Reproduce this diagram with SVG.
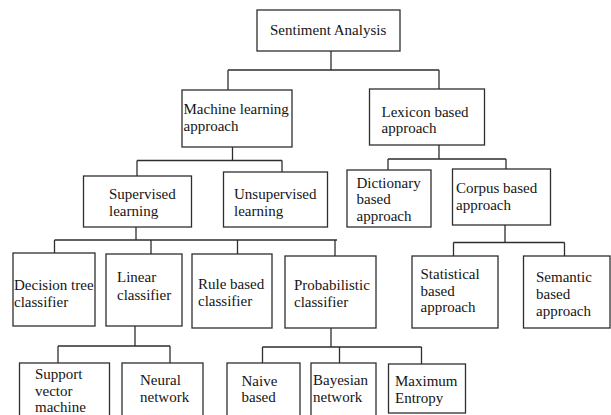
<svg xmlns="http://www.w3.org/2000/svg" width="611" height="415" viewBox="0 0 611 415">
<style>
.box{fill:#fff;stroke:#2e2e2e;stroke-width:1.3}
.c{fill:none;stroke:#2e2e2e;stroke-width:1.3}
text{font-family:"Liberation Serif","Times New Roman",serif;font-size:15px;fill:#151515}
</style>
<rect width="611" height="415" fill="#fff"/>
<g id="connectors">
<path class="c" d="M331 51V70M228 70H439M228 70V90M439 70V89"/>
<path class="c" d="M232.5 147V160.5M137 160.5H282M137 160.5V176M282 160.5V172"/>
<path class="c" d="M439 145V159M388 159H506M388 159V170M506 159V169"/>
<path class="c" d="M136 227V240M54.5 240H337M54.5 240V253M151 240V254M237.5 240V254M335 240V256"/>
<path class="c" d="M505 225V242.5M453.5 242.5H564.5M453.5 242.5V256M564.5 242.5V256"/>
<path class="c" d="M135 326V346M58 346H170M58 346V363M170 346V363"/>
<path class="c" d="M331 328V347M262.5 347H421.5M262.5 347V363M339.5 347V363M421.5 347V364"/>
</g>
<g id="sentiment"><rect class="box" x="257" y="10" width="143" height="41"/><text x="270" y="35">Sentiment Analysis</text></g>
<g id="ml"><rect class="box" x="182" y="90" width="110" height="57"/><text x="183.5" y="113.5">Machine learning</text><text x="183.5" y="130.5">approach</text></g>
<g id="lexicon"><rect class="box" x="369.5" y="89" width="115" height="56"/><text x="381.5" y="116.5">Lexicon based</text><text x="381.5" y="133">approach</text></g>
<g id="dictionary"><rect class="box" x="347" y="170" width="84" height="57"/><text x="356.5" y="187.5">Dictionary</text><text x="356.5" y="204">based</text><text x="356.5" y="220.5">approach</text></g>
<g id="corpus"><rect class="box" x="452.5" y="169" width="98" height="56"/><text x="456" y="193">Corpus based</text><text x="456" y="210">approach</text></g>
<g id="supervised"><rect class="box" x="83.5" y="176" width="108" height="51"/><text x="109" y="199">Supervised</text><text x="109" y="216">learning</text></g>
<g id="unsupervised"><rect class="box" x="223.5" y="172" width="104" height="55"/><text x="234" y="199">Unsupervised</text><text x="234" y="216">learning</text></g>
<g id="decision"><rect class="box" x="13" y="253" width="82" height="73"/><text x="14" y="290">Decision tree</text><text x="14" y="307">classifier</text></g>
<g id="linear"><rect class="box" x="106" y="254" width="76" height="72"/><text x="117" y="282">Linear</text><text x="117" y="299.5">classifier</text></g>
<g id="rule"><rect class="box" x="192" y="254" width="80" height="74"/><text x="198" y="288.5">Rule based</text><text x="198" y="306">classifier</text></g>
<g id="probabilistic"><rect class="box" x="285" y="256" width="91" height="72"/><text x="294" y="290">Probabilistic</text><text x="294" y="307">classifier</text></g>
<g id="statistical"><rect class="box" x="412" y="256" width="86" height="72"/><text x="420.5" y="278.5">Statistical</text><text x="420.5" y="295.5">based</text><text x="420.5" y="312">approach</text></g>
<g id="semantic"><rect class="box" x="523.5" y="256" width="86.5" height="72"/><text x="536" y="282">Semantic</text><text x="536" y="299">based</text><text x="536" y="315.5">approach</text></g>
<g id="svm"><rect class="box" x="19.5" y="363" width="90" height="60"/><text x="35" y="379">Support</text><text x="35" y="395.5">vector</text><text x="35" y="412">machine</text></g>
<g id="neural"><rect class="box" x="122" y="363" width="81" height="60"/><text x="140" y="385">Neural</text><text x="140" y="401.5">network</text></g>
<g id="naive"><rect class="box" x="227" y="363" width="73" height="60"/><text x="241.5" y="385.5">Naive</text><text x="241.5" y="402">based</text></g>
<g id="bayesian"><rect class="box" x="311" y="363" width="65" height="60"/><text x="313" y="385">Bayesian</text><text x="313" y="401.5">network</text></g>
<g id="maximum"><rect class="box" x="388.5" y="364" width="77" height="49"/><text x="395" y="386">Maximum</text><text x="395" y="403">Entropy</text></g>
</svg>
